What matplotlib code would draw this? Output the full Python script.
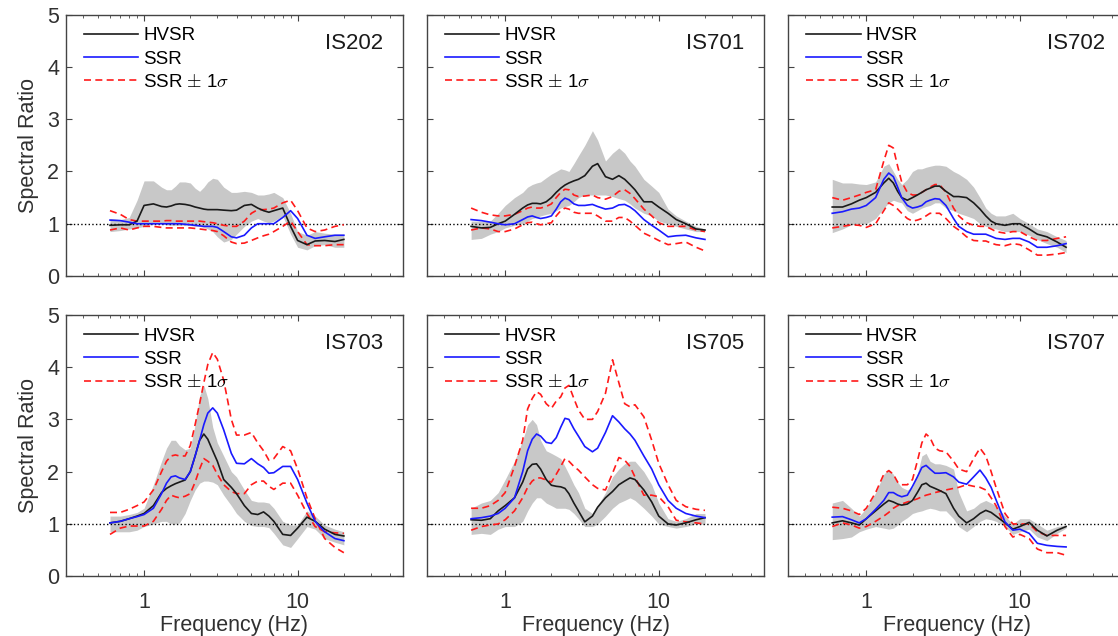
import matplotlib.pyplot as plt
import numpy as np

plt.rcParams['font.family'] = ['Liberation Sans', 'DejaVu Sans']
plt.rcParams['mathtext.fontset'] = 'cm'

# frequency samples (Hz) shared by all stations
freq = [0.6, 0.7, 0.8, 0.9, 1.0, 1.15, 1.3, 1.4, 1.5, 1.6, 1.7, 1.85, 2.0, 2.15,
        2.3, 2.45, 2.6, 2.8, 3.0, 3.3, 3.7, 4.0, 4.5, 5.0, 5.5, 6.0, 6.5, 7.0,
        8.0, 9.0, 10, 11.5, 13, 15, 17.5, 20]

stations = ['IS202', 'IS701', 'IS702', 'IS703', 'IS705', 'IS707']

hvsr = {
    'IS202': [0.97, 0.98, 0.98, 1.05, 1.35, 1.38, 1.33, 1.32, 1.34, 1.37, 1.38, 1.37, 1.35, 1.32, 1.3, 1.28, 1.27, 1.27,
              1.27, 1.26, 1.25, 1.26, 1.35, 1.37, 1.3, 1.25, 1.22, 1.25, 1.3, 0.95, 0.68, 0.6, 0.67, 0.68, 0.66, 0.7],
    'IS701': [0.95, 0.92, 0.93, 1.0, 1.05, 1.18, 1.3, 1.36, 1.39, 1.39, 1.38, 1.42, 1.5, 1.6, 1.68, 1.74, 1.78, 1.82,
              1.85, 1.92, 2.1, 2.15, 1.9, 1.85, 1.92, 1.85, 1.75, 1.65, 1.42, 1.42, 1.32, 1.2, 1.08, 1.0, 0.9, 0.88],
    'IS702': [1.32, 1.32, 1.38, 1.45, 1.5, 1.6, 1.78, 1.87, 1.78, 1.62, 1.5, 1.45, 1.5, 1.55, 1.6, 1.65, 1.68, 1.72,
              1.72, 1.62, 1.52, 1.52, 1.5, 1.4, 1.28, 1.15, 1.05, 1.0, 0.97, 1.0, 1.0, 0.9, 0.8, 0.75, 0.65, 0.55],
    'IS703': [1.02, 1.05, 1.1, 1.15, 1.2, 1.35, 1.6, 1.68, 1.73, 1.77, 1.8, 1.84, 2.0, 2.3, 2.6, 2.72, 2.62, 2.4,
              2.2, 1.85, 1.7, 1.58, 1.35, 1.2, 1.18, 1.23, 1.15, 1.05, 0.8, 0.78, 0.92, 1.13, 1.05, 0.9, 0.8, 0.77],
    'IS705': [1.08, 1.07, 1.1, 1.25, 1.35, 1.5, 1.8, 2.05, 2.14, 2.15, 2.05, 1.85, 1.74, 1.72, 1.71, 1.68, 1.58, 1.4,
              1.25, 1.04, 1.15, 1.32, 1.5, 1.62, 1.75, 1.82, 1.88, 1.85, 1.65, 1.42, 1.15, 1.0, 0.98, 1.02, 1.08, 1.12],
    'IS707': [1.02, 1.06, 1.02, 0.98, 1.1, 1.25, 1.38, 1.45, 1.42, 1.38, 1.36, 1.38, 1.45, 1.6, 1.75, 1.78, 1.72, 1.68,
              1.64, 1.58, 1.3, 1.15, 1.02, 1.1, 1.2, 1.26, 1.22, 1.15, 1.02, 0.9, 0.95, 1.03, 0.88, 0.77, 0.88, 0.95],
}

hvsr_hi = {
    'IS202': [1.1, 1.08, 1.12, 1.45, 1.82, 1.82, 1.7, 1.65, 1.65, 1.72, 1.8, 1.8, 1.78, 1.68, 1.62, 1.7, 1.8, 1.87,
              1.85, 1.7, 1.6, 1.6, 1.62, 1.6, 1.55, 1.55, 1.57, 1.6, 1.5, 1.2, 0.85, 0.78, 0.85, 0.82, 0.8, 0.8],
    'IS701': [1.05, 1.05, 1.05, 1.2, 1.35, 1.5, 1.6, 1.7, 1.75, 1.78, 1.8, 1.88, 1.95, 2.0, 2.05, 2.03, 2.0, 2.15,
              2.3, 2.5, 2.78, 2.6, 2.2, 2.35, 2.45, 2.35, 2.2, 2.1, 1.85, 1.72, 1.6, 1.28, 1.15, 1.05, 0.95, 0.9],
    'IS702': [1.85, 1.78, 1.78, 1.76, 1.75, 1.8, 2.1, 2.15, 2.0, 1.85, 1.75, 1.85, 2.0, 2.05, 2.05, 2.08, 2.1, 2.12,
              2.12, 2.1, 2.0, 1.95, 1.85, 1.7, 1.5, 1.3, 1.2, 1.15, 1.15, 1.2, 1.1, 1.0, 0.9, 0.85, 0.75, 0.68],
    'IS703': [1.15, 1.15, 1.18, 1.22, 1.3, 1.75, 2.2, 2.45, 2.6, 2.6, 2.5, 2.42, 2.45, 2.9, 3.45, 3.65, 3.4, 2.85,
              2.55, 2.3, 2.0, 1.9, 1.65, 1.45, 1.42, 1.42, 1.4, 1.3, 1.05, 0.98, 0.98, 1.25, 1.15, 0.98, 0.9, 0.85],
    'IS705': [1.3, 1.4, 1.45, 1.6, 1.85, 2.2, 2.6, 2.9, 3.0, 2.9, 2.6, 2.4, 2.35, 2.3, 2.25, 2.1, 1.95, 1.75,
              1.6, 1.3, 1.2, 1.35, 1.6, 1.9, 2.05, 2.15, 2.2, 2.2, 2.0, 1.75, 1.4, 1.1, 1.05, 1.1, 1.2, 1.2],
    'IS707': [1.4, 1.45, 1.3, 1.15, 1.3, 1.6, 1.95, 2.05, 1.95, 1.8, 1.7, 1.65, 1.7, 1.95, 2.3, 2.35, 2.2, 2.15,
              2.15, 2.12, 2.05, 1.6, 1.25, 1.3, 1.4, 1.45, 1.4, 1.35, 1.15, 1.0, 1.1, 1.1, 1.0, 0.88, 0.95, 0.98],
}

hvsr_lo = {
    'IS202': [0.85, 0.87, 0.9, 0.92, 0.95, 1.0, 1.0, 0.98, 0.97, 0.97, 0.97, 0.97, 0.97, 0.95, 0.95, 0.93, 0.9, 0.85,
              0.75, 0.65, 0.7, 0.8, 0.95, 1.05, 1.1, 1.05, 1.02, 1.05, 1.15, 0.8, 0.55, 0.5, 0.58, 0.6, 0.55, 0.55],
    'IS701': [0.7, 0.72, 0.8, 0.85, 0.92, 0.97, 1.0, 1.05, 1.1, 1.12, 1.15, 1.18, 1.2, 1.25, 1.3, 1.33, 1.35, 1.42,
              1.5, 1.55, 1.55, 1.55, 1.55, 1.52, 1.48, 1.45, 1.38, 1.3, 1.2, 1.15, 1.05, 1.0, 0.95, 0.9, 0.85, 0.85],
    'IS702': [0.83, 0.9, 0.98, 1.0, 1.0, 1.1, 1.3, 1.4, 1.45, 1.42, 1.4, 1.25, 1.2, 1.25, 1.3, 1.33, 1.35, 1.4,
              1.4, 1.3, 1.25, 1.2, 1.15, 1.1, 1.0, 0.95, 0.92, 0.9, 0.85, 0.85, 0.85, 0.78, 0.7, 0.62, 0.55, 0.45],
    'IS703': [0.85, 0.85, 0.85, 0.88, 0.95, 1.0, 1.05, 1.05, 1.0, 1.0, 1.02, 1.2, 1.45, 1.65, 1.78, 1.82, 1.82, 1.8,
              1.75, 1.55, 1.35, 1.2, 1.05, 0.97, 0.95, 0.95, 0.93, 0.82, 0.6, 0.55, 0.72, 0.95, 0.9, 0.72, 0.65, 0.6],
    'IS705': [0.8, 0.82, 0.8, 0.9, 0.95, 0.95, 1.05, 1.25, 1.4, 1.5, 1.5, 1.4, 1.35, 1.3, 1.3, 1.3, 1.28, 1.2,
              1.1, 0.95, 0.95, 1.0, 1.15, 1.3, 1.4, 1.45, 1.5, 1.45, 1.3, 1.15, 1.0, 0.95, 0.92, 0.95, 1.0, 1.0],
    'IS707': [0.7, 0.72, 0.75, 0.85, 0.9, 0.95, 0.92, 0.9, 0.92, 0.98, 1.05, 1.12, 1.2, 1.23, 1.25, 1.28, 1.3, 1.28,
              1.25, 1.25, 1.1, 0.95, 0.85, 0.95, 1.05, 1.1, 1.08, 1.05, 0.95, 0.8, 0.85, 0.9, 0.75, 0.68, 0.82, 0.92],
}

ssr = {
    'IS202': [1.07, 1.06, 1.03, 1.0, 1.0, 1.0, 1.0, 1.0, 1.0, 1.0, 1.0, 0.99, 0.98, 0.97, 0.96, 0.95, 0.95, 0.95,
              0.93, 0.85, 0.75, 0.73, 0.78, 0.92, 1.0, 1.0, 1.0, 1.0, 1.12, 1.25, 1.1, 0.78, 0.72, 0.75, 0.78, 0.78],
    'IS701': [1.08, 1.06, 1.03, 1.0, 0.98, 1.0, 1.08, 1.13, 1.15, 1.12, 1.1, 1.12, 1.15, 1.28, 1.42, 1.49, 1.46, 1.38,
              1.35, 1.35, 1.37, 1.33, 1.28, 1.3, 1.36, 1.37, 1.32, 1.25, 1.08, 0.97, 0.88, 0.75, 0.77, 0.78, 0.73, 0.7],
    'IS702': [1.2, 1.23, 1.28, 1.3, 1.35, 1.5, 1.85, 1.97, 1.9, 1.7, 1.5, 1.35, 1.3, 1.32, 1.35, 1.42, 1.45, 1.48,
              1.47, 1.35, 1.1, 0.95, 0.85, 0.8, 0.8, 0.8, 0.76, 0.72, 0.7, 0.72, 0.72, 0.65, 0.55, 0.55, 0.58, 0.62],
    'IS703': [1.02, 1.05, 1.1, 1.14, 1.18, 1.3, 1.58, 1.78, 1.9, 1.92, 1.88, 1.85, 2.0, 2.3, 2.6, 2.9, 3.12, 3.22,
              3.12, 2.8, 2.35, 2.16, 2.15, 2.25, 2.15, 2.08, 1.97, 1.98, 2.1, 2.1, 1.85, 1.4, 1.05, 0.85, 0.72, 0.68],
    'IS705': [1.1, 1.12, 1.15, 1.2, 1.3, 1.5, 2.0, 2.4, 2.62, 2.72, 2.68, 2.56, 2.54, 2.65, 2.85, 3.02, 3.0, 2.82,
              2.68, 2.48, 2.38, 2.45, 2.75, 3.07, 2.95, 2.82, 2.72, 2.6, 2.3, 2.05, 1.75, 1.45, 1.3, 1.2, 1.15, 1.12],
    'IS707': [1.13, 1.14, 1.08, 1.02, 1.1, 1.28, 1.45, 1.6, 1.6, 1.55, 1.52, 1.55, 1.72, 1.9, 2.08, 2.12, 2.05, 1.97,
              1.97, 1.98, 1.9, 1.8, 1.76, 1.9, 2.03, 1.88, 1.7, 1.46, 1.04, 0.88, 0.9, 0.82, 0.63, 0.59, 0.57, 0.56],
}

ssr_hi = {
    'IS202': [1.25, 1.18, 1.08, 1.05, 1.05, 1.05, 1.05, 1.06, 1.06, 1.05, 1.05, 1.05, 1.05, 1.05, 1.05, 1.04, 1.03, 1.02,
              1.0, 0.97, 0.95, 0.95, 1.05, 1.2, 1.27, 1.27, 1.28, 1.3, 1.4, 1.45, 1.25, 0.92, 0.85, 0.88, 0.95, 0.98],
    'IS701': [1.3, 1.22, 1.17, 1.15, 1.15, 1.18, 1.25, 1.3, 1.32, 1.3, 1.3, 1.33, 1.38, 1.5, 1.6, 1.66, 1.65, 1.55,
              1.52, 1.53, 1.55, 1.5, 1.47, 1.52, 1.62, 1.65, 1.58, 1.48, 1.28, 1.15, 1.02, 0.95, 0.95, 0.95, 0.88, 0.85],
    'IS702': [1.5, 1.45, 1.5, 1.55, 1.6, 1.65, 2.2, 2.5, 2.45, 2.1, 1.8, 1.6, 1.55, 1.55, 1.6, 1.65, 1.7, 1.75,
              1.75, 1.6, 1.3, 1.15, 1.02, 0.97, 0.95, 0.95, 0.9, 0.85, 0.82, 0.85, 0.85, 0.75, 0.68, 0.68, 0.72, 0.75],
    'IS703': [1.22, 1.22, 1.28, 1.35, 1.42, 1.65, 2.0, 2.2, 2.3, 2.32, 2.3, 2.3, 2.5, 2.9, 3.3, 3.7, 4.05, 4.28,
              4.15, 3.75, 3.0, 2.7, 2.7, 2.75, 2.55, 2.4, 2.22, 2.25, 2.48, 2.4, 2.05, 1.5, 1.1, 0.72, 0.55, 0.45],
    'IS705': [1.3, 1.3, 1.35, 1.45, 1.6, 2.1, 2.6, 3.2, 3.4, 3.53, 3.48, 3.3, 3.21, 3.35, 3.43, 3.6, 3.65, 3.4,
              3.18, 3.0, 3.0, 3.15, 3.5, 4.14, 3.7, 3.3, 3.24, 3.28, 3.05, 2.6, 2.16, 1.75, 1.45, 1.33, 1.28, 1.26],
    'IS707': [1.32, 1.3, 1.25, 1.18, 1.3, 1.6, 1.95, 2.02, 1.95, 1.8, 1.75, 1.75, 1.85, 2.2, 2.55, 2.72, 2.65, 2.45,
              2.4, 2.38, 2.2, 2.05, 2.0, 2.25, 2.45, 2.3, 2.0, 1.7, 1.2, 1.0, 1.0, 1.0, 0.85, 0.78, 0.78, 0.78],
}

ssr_lo = {
    'IS202': [0.88, 0.92, 0.88, 0.92, 0.95, 0.95, 0.93, 0.92, 0.92, 0.92, 0.92, 0.92, 0.92, 0.91, 0.9, 0.89, 0.88, 0.87,
              0.85, 0.77, 0.65, 0.62, 0.63, 0.68, 0.73, 0.77, 0.8, 0.85, 0.95, 1.05, 0.85, 0.6, 0.58, 0.58, 0.6, 0.6],
    'IS701': [0.88, 0.92, 0.9, 0.85, 0.85, 0.9, 0.98, 1.02, 1.03, 1.0, 0.98, 1.0, 1.02, 1.15, 1.25, 1.3, 1.28, 1.22,
              1.2, 1.2, 1.2, 1.15, 1.05, 1.05, 1.12, 1.12, 1.05, 0.97, 0.82, 0.75, 0.68, 0.6, 0.62, 0.65, 0.55, 0.48],
    'IS702': [0.92, 0.95, 0.98, 0.97, 0.93, 1.0, 1.25, 1.4, 1.35, 1.28, 1.2, 1.1, 1.05, 1.07, 1.1, 1.15, 1.2, 1.2,
              1.2, 1.1, 0.95, 0.88, 0.75, 0.68, 0.67, 0.67, 0.63, 0.6, 0.58, 0.62, 0.6, 0.5, 0.4, 0.4, 0.42, 0.45],
    'IS703': [0.8, 0.92, 0.96, 0.96, 0.96, 1.05, 1.28, 1.45, 1.55, 1.52, 1.5, 1.53, 1.58, 1.8, 2.05, 2.25, 2.2, 2.12,
              1.95, 1.75, 1.62, 1.58, 1.58, 1.75, 1.82, 1.82, 1.72, 1.66, 1.78, 1.78, 1.55, 1.2, 0.95, 0.85, 0.83, 0.82],
    'IS705': [0.88, 0.95, 0.98, 1.0, 1.08, 1.25, 1.5, 1.7, 1.82, 1.88, 1.88, 1.84, 1.8, 1.95, 2.1, 2.25, 2.2, 2.1,
              2.03, 1.9, 1.75, 1.68, 1.65, 1.97, 2.27, 2.22, 2.1, 1.9, 1.55, 1.55, 1.52, 1.33, 1.07, 1.04, 1.02, 1.0],
    'IS707': [0.95, 1.02, 0.98, 0.92, 0.95, 1.05, 1.15, 1.22, 1.3, 1.35, 1.38, 1.42, 1.45, 1.48, 1.52, 1.55, 1.57, 1.6,
              1.62, 1.65, 1.68, 1.7, 1.75, 1.72, 1.7, 1.65, 1.5, 1.35, 0.95, 0.75, 0.8, 0.72, 0.52, 0.45, 0.45, 0.4],
}

fig = plt.figure(figsize=(11.18, 6.36), dpi=100)

lefts = [0.059, 0.382, 0.705]
bottoms = [0.566, 0.094]
w, h = 0.3014, 0.411
axis_col = '#444444'
txt_col = '#303030'
fs = 15.5

for i, st in enumerate(stations):
    r, c = divmod(i, 3)
    ax = fig.add_axes([lefts[c], bottoms[r], w, h])

    ax.fill_between(freq, hvsr_lo[st], hvsr_hi[st], color='#c8c8c8', lw=0, zorder=1)
    ax.axhline(1, color='k', ls=':', lw=1.0, zorder=2)
    ax.plot(freq, hvsr[st], color='#1a1a1a', lw=1.2, zorder=4, label='HVSR')
    ax.plot(freq, ssr[st], color='#1a1aff', lw=1.2, zorder=5, label='SSR')
    ax.plot(freq, ssr_hi[st], color='#ff1a1a', lw=1.2, dashes=(4.2, 2.6), zorder=3,
            label=r'SSR $\pm$ 1$\sigma$')
    ax.plot(freq, ssr_lo[st], color='#ff1a1a', lw=1.2, dashes=(4.2, 2.6), zorder=3)

    ax.set_xscale('log')
    ax.set_xlim(0.31, 48.5)
    ax.set_ylim(0, 5)
    ax.set_yticks([0, 1, 2, 3, 4, 5])
    ax.set_xticks([1, 10])
    ax.xaxis.set_minor_locator(plt.matplotlib.ticker.LogLocator(base=10, subs=np.arange(2, 10)))
    ax.xaxis.set_minor_formatter(plt.NullFormatter())

    ax.tick_params(which='both', direction='in', top=True, right=True, color=axis_col,
                   labelcolor=txt_col, labelsize=fs)
    ax.tick_params(which='major', length=4, width=0.8)
    ax.tick_params(which='minor', length=2.5, width=0.6)
    ax.tick_params(axis='y', which='major', pad=5)
    ax.tick_params(axis='x', which='major', pad=11.5)
    for sp in ax.spines.values():
        sp.set_color(axis_col)
        sp.set_linewidth(1.0)

    if r == 0:
        ax.set_xticklabels([])
    else:
        ax.set_xticklabels(['1', '10'])
        ax.set_xlabel('Frequency (Hz)', fontsize=fs, color=txt_col, labelpad=1.5)
    if c == 0:
        ax.set_ylabel('Spectral Ratio', fontsize=fs, color=txt_col, labelpad=6)
    else:
        ax.set_yticklabels([])

    ax.text(0.94, 0.89, st, transform=ax.transAxes, ha='right', va='center',
            fontsize=16, color='#1a1a1a')
    ax.legend(loc='upper left', frameon=False, fontsize=13.5, handlelength=2.9,
              handletextpad=0.25, labelspacing=0.33, borderaxespad=0.2,
              bbox_to_anchor=(0.02, 0.995))

fig.savefig('out.png', dpi=100)
